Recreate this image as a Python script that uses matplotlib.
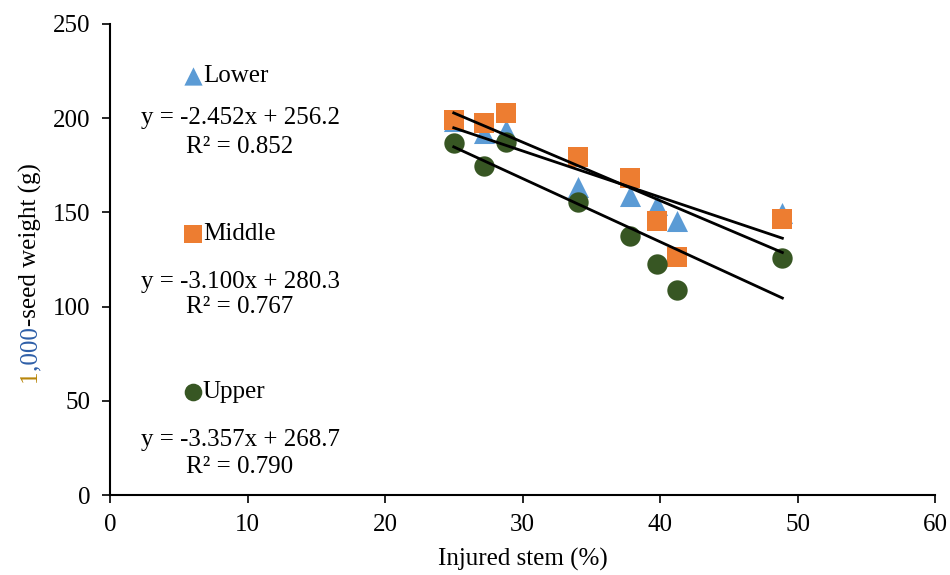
import matplotlib
matplotlib.use("Agg")
import matplotlib.pyplot as plt
import numpy as np

plt.rcParams['font.family'] = ['Liberation Serif', 'DejaVu Serif']

# Data
injured = [25.0, 27.2, 28.8, 34.0, 37.8, 39.8, 41.2, 48.9]
lower = [198.5, 192.0, 194.0, 163.5, 158.5, 154.0, 145.5, 149.5]
middle = [199.0, 197.5, 203.0, 179.5, 168.5, 145.5, 126.5, 146.5]
upper = [187.0, 174.5, 187.5, 155.5, 137.5, 122.5, 109.0, 126.0]

series_names = ["Lower", "Middle", "Upper"]
slopes = [-2.452, -3.100, -3.357]
intercepts = [256.2, 280.3, 268.7]
r2 = ["0.852", "0.767", "0.790"]

xticks = [0, 10, 20, 30, 40, 50, 60]
yticks = [0, 50, 100, 150, 200, 250]

colors = ["#5B9BD5", "#ED7D31", "#375623"]
markers = ["^", "s", "o"]
sizes = [230, 200, 215]

fig = plt.figure(figsize=(9.5, 5.75), dpi=100)
ax = fig.add_axes([110/950, 1-495/575, 825/950, 471/575])

allvals = [lower, middle, upper]
for vals, c, m, s in zip(allvals, colors, markers, sizes):
    ax.scatter(injured, vals, marker=m, s=s, color=c, linewidths=0, zorder=3)

xs = np.array([min(injured), max(injured)])
for a, b in zip(slopes, intercepts):
    ax.plot(xs, a*xs + b, color='black', lw=2.0, zorder=4)

# legend-like labels with equations
leg_y = [222.3, 138.5, 54.7]
eq_y = [200.1, 113.0, 29.2]
r2_y = [184.7, 99.8, 14.9]
fs = 18
for i in range(3):
    ax.scatter([6.05], [leg_y[i]], marker=markers[i], s=sizes[i]*0.75, color=colors[i], linewidths=0, clip_on=False)
    ax.text(6.75, leg_y[i], series_names[i], ha='left', va='center', fontsize=fs)
    ax.text(9.5, eq_y[i], f"y = {slopes[i]:.3f}x + {intercepts[i]:.1f}", ha='center', va='center', fontsize=fs)
    ax.text(9.4, r2_y[i], f"R² = {r2[i]}", ha='center', va='center', fontsize=fs)

ax.set_xlim(0, 60)
ax.set_ylim(0, 250)
ax.set_xticks(xticks)
ax.set_yticks(yticks)
ax.tick_params(labelsize=fs, direction='out', length=6, width=1.2, pad=8)
for sp in ['top', 'right']:
    ax.spines[sp].set_visible(False)
for sp in ['left', 'bottom']:
    ax.spines[sp].set_linewidth(1.5)

ax.set_xlabel("Injured stem (%)", fontsize=fs, labelpad=8)

# Multi-colored y label
t1 = fig.text(30/950, 1-382/575, "1", rotation=90, ha='center', va='bottom', fontsize=fs, color='#B8860B')
t2 = plt.annotate(",000", xy=(0.5, 1.0), xycoords=t1, rotation=90, ha='center', va='bottom', fontsize=fs, color='#2E5FA8', annotation_clip=False)
t3 = plt.annotate("-seed weight (g)", xy=(0.5, 1.0), xycoords=t2, rotation=90, ha='center', va='bottom', fontsize=fs, color='black', annotation_clip=False)

fig.savefig("out.png", dpi=100)
